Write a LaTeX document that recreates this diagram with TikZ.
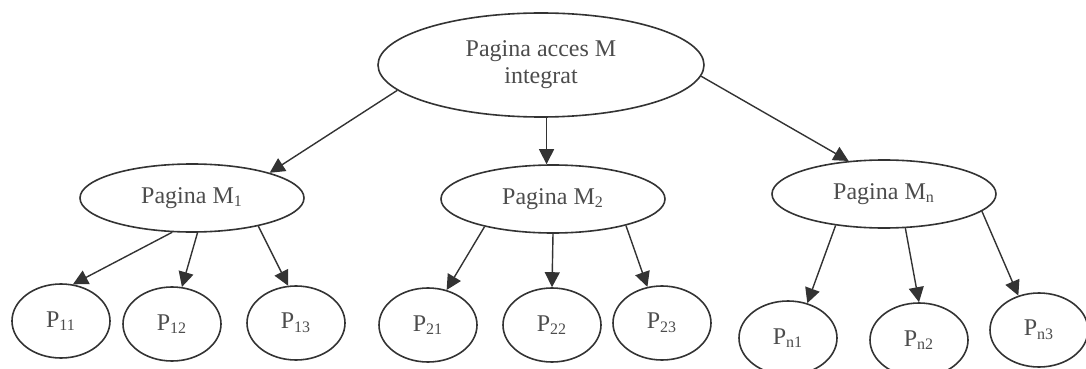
\documentclass[tikz,border=0pt]{standalone}
\usepackage{fontspec}
\setmainfont{Liberation Serif}
\usepackage{xcolor}
\usepackage{tikz}
\usetikzlibrary{shapes.geometric}
\usetikzlibrary{arrows.meta}

\begin{document}
\begin{tikzpicture}[x = .5pt, y = -.5pt,
  pagina/.style = {draw = black!80, ellipse, line width = .8pt, inner sep = 0pt,
    text = black!70, font = \fontsize{12}{13.5}\selectfont},
  modul/.style = {pagina, minimum width = 112pt, minimum height = 34pt},
  leaf/.style = {pagina, minimum width = 49pt, minimum height = 37pt},
  link/.style = {draw = black!80, line width = .7pt, -{Triangle[length = 7.5pt, width = 7.5pt]}}]
 \useasboundingbox (0,0) rectangle (1086,369);
 % top page
 \node[pagina, minimum width = 163pt, minimum height = 52pt, align = center] (acces) at (541,65) {Pagina acces M\\integrat};
 % module pages
 \node[modul] (m1) at (192,198) {Pagina M\textsubscript{1}};
 \node[modul] (m2) at (553,199) {Pagina M\textsubscript{2}};
 \node[modul] (mn) at (884,194) {Pagina M\textsubscript{n}};
 % leaf pages
 \node[leaf] (p11) at (61,321) {P\textsubscript{11}};
 \node[leaf] (p12) at (172,324) {P\textsubscript{12}};
 \node[leaf] (p13) at (296,323) {P\textsubscript{13}};
 \node[leaf] (p21) at (428,325) {P\textsubscript{21}};
 \node[leaf] (p22) at (552,325) {P\textsubscript{22}};
 \node[leaf] (p23) at (662,323) {P\textsubscript{23}};
 \node[leaf] (pn1) at (788,338) {P\textsubscript{n1}};
 \node[leaf] (pn2) at (919,340) {P\textsubscript{n2}};
 \node[leaf] (pn3) at (1039,330) {P\textsubscript{n3}};
 % links
 \draw[link] (acces.190) -- (m1.18);
 \draw[link] (acces.276) -- (acces.276 |- m2.north);
 \draw[link] (acces.356) -- (mn.137);
 \draw[link] (m1.240) -- (p11.72);
 \draw[link] (m1.279) -- (p12.75);
 \draw[link] (m1.337) -- (p13.102);
 \draw[link] (m2.202) -- (p21.62);
 \draw[link] (m2.270) -- (p22.90);
 \draw[link] (m2.340) -- (p23.112);
 \draw[link] (mn.213) -- (pn1.61);
 \draw[link] (mn.302) -- (pn2.90);
 \draw[link] (mn.350) -- (pn3.121);
\end{tikzpicture}
\end{document}
